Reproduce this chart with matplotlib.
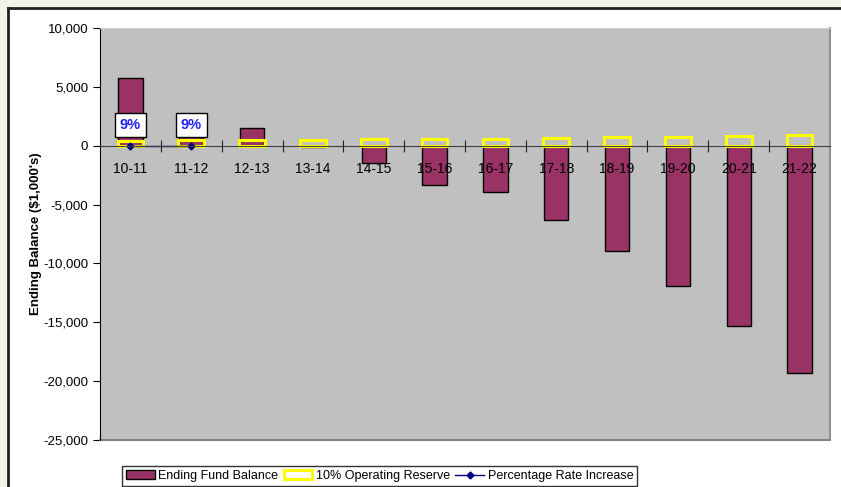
import matplotlib.pyplot as plt
from matplotlib.patches import Rectangle
from matplotlib.ticker import FuncFormatter
import numpy as np

plt.rcParams['font.family'] = ['Liberation Sans', 'DejaVu Sans']

years = ['10-11', '11-12', '12-13', '13-14', '14-15', '15-16',
         '16-17', '17-18', '18-19', '19-20', '20-21', '21-22']
fund_balance = [5750, 2100, 1530, -120, -1470, -3310,
                -3970, -6320, -8980, -11950, -15330, -19300]
op_reserve = [430, 450, 500, 520, 530, 550, 570, 680, 720, 750, 800, 870]
rate_increase = [0.09, 0.09]  # only first two years have a rate increase
rate_labels = ['9%', '9%']

fig = plt.figure(figsize=(8.41, 4.87), dpi=100)
fig.patch.set_facecolor('#f2f2e6')

# white chart panel with dark border on top and left
panel = Rectangle((8 / 841, 0), 1.0, 1 - 8 / 487, transform=fig.transFigure,
                  facecolor='white', edgecolor='none', zorder=-5)
fig.patches.append(panel)
fig.add_artist(plt.Line2D([8 / 841, 1], [1 - 8 / 487] * 2, transform=fig.transFigure,
                          color='#222222', lw=2, zorder=-4))
fig.add_artist(plt.Line2D([8 / 841] * 2, [0, 1 - 8 / 487], transform=fig.transFigure,
                          color='#222222', lw=2, zorder=-4))

ax = fig.add_axes([100 / 841, 1 - 440 / 487, 730 / 841, 412 / 487])
ax.set_facecolor('#c0c0c0')

x = np.arange(len(years))
b1 = ax.bar(x, fund_balance, width=0.4, color='#993366', edgecolor='black',
            linewidth=1, zorder=2, label='Ending Fund Balance')
b2 = ax.bar(x, op_reserve, width=0.42, facecolor='none', edgecolor='#ffff00',
            linewidth=2.2, zorder=3, label='10% Operating Reserve')
l1, = ax.plot(x[:len(rate_increase)], rate_increase, color='#000080', marker='D',
              markersize=3.5, lw=1, zorder=4, label='Percentage Rate Increase')

for xi, lab in zip(x, rate_labels):
    ax.text(xi, 1750, lab, ha='center', va='center', color='#2020ff',
            fontsize=10.5, fontweight='bold', zorder=5,
            bbox=dict(boxstyle='square,pad=0.35', facecolor='white',
                      edgecolor='black', linewidth=1))

ax.set_xlim(-0.5, len(years) - 0.5)
ax.set_ylim(-25000, 10000)
ax.set_yticks(np.arange(-25000, 10001, 5000))
ax.yaxis.set_major_formatter(FuncFormatter(lambda v, p: f'{int(v):,}'))
ax.tick_params(axis='y', direction='out', length=5, labelsize=9.5, color='black')

# category axis sits on the zero line, labels drawn over the bars
ax.spines['bottom'].set_position(('data', 0))
ax.spines['bottom'].set_color('#404040')
ax.spines['bottom'].set_zorder(6)
ax.set_xticks(np.arange(0.5, len(years) - 0.5, 1.0))
ax.set_xticklabels([])
ax.tick_params(axis='x', which='major', direction='inout', length=9,
               color='#202020')
ax.set_xticks(x, minor=True)
ax.set_xticklabels(years, minor=True)
ax.tick_params(axis='x', which='minor', length=0, pad=12, labelsize=10)
ax.xaxis.set_zorder(6)

ax.spines['left'].set_color('black')
ax.spines['top'].set_color('#d0d0d0')
ax.spines['right'].set_color('#909090')
ax.spines['right'].set_linewidth(1.5)
ax.add_line(plt.Line2D([0, 1], [0, 0], transform=ax.transAxes,
                       color='#808080', lw=1.5, clip_on=False))

ax.set_ylabel("Ending Balance ($1,000's)", fontsize=9.5, fontweight='bold',
              labelpad=1)

leg = fig.legend(handles=[b1, b2, l1], loc='lower left',
                 bbox_to_anchor=(116 / 841, -5 / 487),
                 ncol=3, fontsize=9, frameon=True, fancybox=False,
                 edgecolor='black', handlelength=2.3, handletextpad=0.3,
                 columnspacing=0.4, borderpad=0.3)
leg.get_frame().set_linewidth(1)

fig.savefig('out.png', dpi=100, facecolor=fig.get_facecolor())
